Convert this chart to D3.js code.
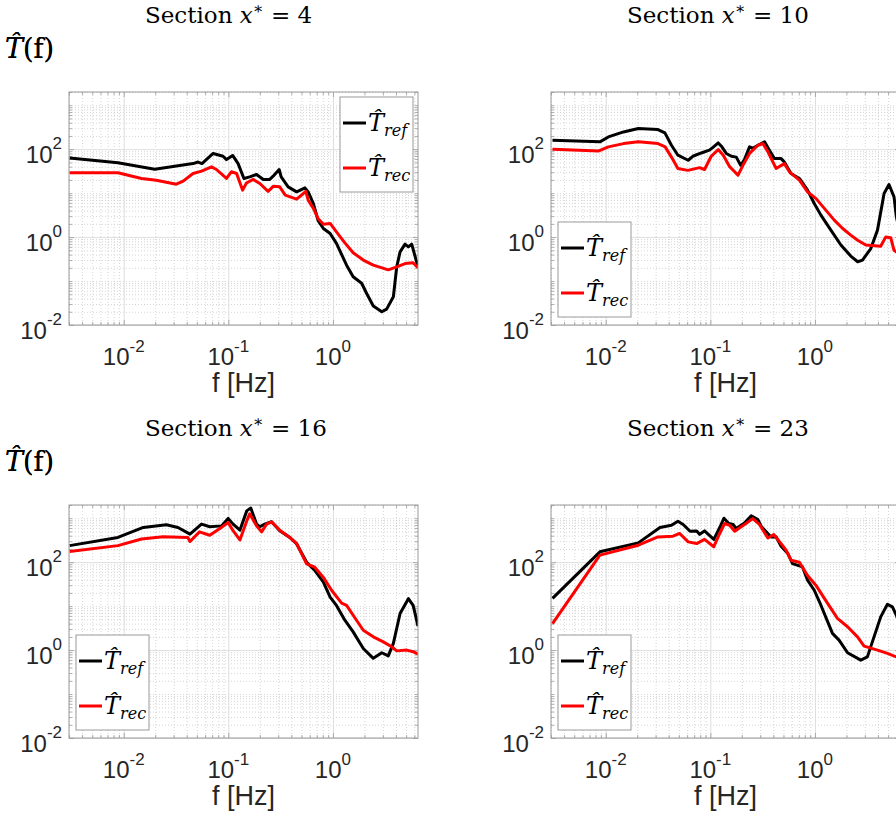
<!DOCTYPE html>
<html>
<head>
<meta charset="utf-8">
<script src="https://cdnjs.cloudflare.com/ajax/libs/d3/7.8.5/d3.min.js"></script>
<style>
  body { margin: 0; background: #fff; }
</style>
</head>
<body>
<script>
// section numbers of the four panels
const sections = ['4', '10', '16', '23'];
// where the legend sits in each panel
const legendCorners = ['ne', 'sw', 'sw', 'sw'];

// [f in Hz, |T(f)|]
const ref4 = [[0.00304,63],[0.0088,49],[0.0198,35],[0.046,47],[0.0513,51],[0.056,47],[0.0716,80],[0.089,69],[0.096,58],[0.11,72],[0.124,47],[0.141,21.6],[0.16,23.5],[0.186,26.6],[0.216,20.5],[0.249,20.5],[0.268,24.3],[0.306,34.5],[0.32,23.5],[0.373,13.9],[0.45,10.7],[0.54,13.2],[0.58,10.7],[0.65,5.8],[0.72,2.4],[0.81,1.57],[0.94,1.21],[1.08,0.72],[1.35,0.23],[1.56,0.125],[1.88,0.089],[2.1,0.052],[2.43,0.027],[2.93,0.02],[3.26,0.023],[3.78,0.044],[4.07,0.21],[4.38,0.46],[4.89,0.69],[5.26,0.6],[5.66,0.69],[6.5,0.21]];
const rec4 = [[0.00304,29],[0.0088,29],[0.0148,21.6],[0.0205,19.7],[0.0318,16],[0.037,18.8],[0.046,28],[0.0555,31.6],[0.069,39.6],[0.077,34.5],[0.096,21.6],[0.107,30.6],[0.12,28],[0.137,11.7],[0.149,17],[0.173,20.5],[0.2,16.6],[0.24,11],[0.27,14.4],[0.31,13.9],[0.35,9],[0.39,8.2],[0.45,7.3],[0.5,9],[0.55,11],[0.58,6.9],[0.65,4.5],[0.72,2.66],[0.81,1.97],[0.94,2.05],[1.08,1.32],[1.3,0.74],[1.56,0.44],[1.95,0.3],[2.43,0.23],[3.38,0.18],[4.07,0.21],[4.89,0.25],[5.84,0.26],[6.5,0.2]];
const ref10 = [[0.0031,160],[0.0088,147],[0.0106,190],[0.0148,247],[0.0205,295],[0.0316,280],[0.0368,235],[0.0425,123],[0.049,73],[0.0614,56],[0.068,69],[0.082,82],[0.098,95],[0.106,110],[0.119,139],[0.129,113],[0.142,80],[0.159,69],[0.177,66],[0.195,43],[0.212,58],[0.237,113],[0.255,105],[0.285,123],[0.33,147],[0.367,95],[0.41,61],[0.475,61],[0.51,51],[0.59,28],[0.71,21.6],[0.85,11.7],[0.985,5.8],[1.14,3.16],[1.42,1.44],[1.77,0.66],[2.2,0.37],[2.56,0.275],[2.85,0.3],[3.42,0.55],[3.96,1.44],[4.58,9.8],[5.1,15.7],[5.7,8.2],[6.0,2.9],[6.5,1.2]];
const rec10 = [[0.0031,100],[0.0086,91],[0.0106,113],[0.0148,134],[0.0205,147],[0.0316,134],[0.037,113],[0.0425,66],[0.049,36.5],[0.061,33],[0.079,38],[0.088,34.5],[0.102,69],[0.119,98],[0.133,73],[0.153,40],[0.184,25.6],[0.205,43],[0.237,80],[0.285,123],[0.318,134],[0.355,87],[0.425,36.5],[0.51,47],[0.57,30.6],[0.71,19.7],[0.85,10.7],[1.02,7.6],[1.23,4.5],[1.53,2.43],[1.84,1.57],[2.2,1.11],[2.56,0.85],[3.06,0.66],[4.25,0.62],[4.74,1.0],[5.3,0.97],[5.7,0.5],[6.0,0.46],[6.5,0.45]];
const ref16 = [[0.00304,238],[0.0088,365],[0.0154,617],[0.0256,710],[0.033,617],[0.043,435],[0.0554,735],[0.0664,640],[0.086,670],[0.0996,990],[0.111,735],[0.129,535],[0.15,1470],[0.164,1700],[0.186,735],[0.2,640],[0.223,735],[0.259,830],[0.31,520],[0.387,365],[0.45,260],[0.56,100],[0.67,65],[0.81,35],[0.94,16],[1.08,10.4],[1.3,4.8],[1.56,2.6],[1.95,1.09],[2.43,0.65],[2.93,0.87],[3.38,0.74],[3.78,1.42],[4.38,6.8],[5.26,14.8],[5.84,10.4],[6.5,3.5]];
const rec16 = [[0.00304,174],[0.0088,238],[0.0148,336],[0.0238,380],[0.041,365],[0.043,295],[0.053,490],[0.0664,410],[0.083,585],[0.0996,800],[0.111,520],[0.129,320],[0.15,870],[0.16,1260],[0.186,670],[0.208,490],[0.232,735],[0.259,830],[0.31,535],[0.387,365],[0.45,265],[0.56,92],[0.67,77],[0.81,45],[0.97,23],[1.21,11.7],[1.35,10.4],[1.56,6.2],[1.95,2.83],[2.43,2.0],[3.03,1.54],[3.64,1.19],[4.07,0.96],[5.08,1.0],[5.84,0.92],[6.5,0.81]];
const ref23 = [[0.0031,15],[0.0088,172],[0.0205,275],[0.033,615],[0.0425,690],[0.049,850],[0.055,720],[0.064,505],[0.074,515],[0.079,430],[0.088,515],[0.108,330],[0.123,615],[0.135,1000],[0.15,760],[0.165,720],[0.177,585],[0.212,780],[0.246,1130],[0.285,930],[0.306,660],[0.38,375],[0.425,380],[0.475,230],[0.55,158],[0.61,93],[0.76,78],[0.85,39],[0.985,23],[1.14,10.5],[1.47,2.4],[1.7,1.69],[2.05,0.87],[2.74,0.59],[3.17,0.7],[3.67,2.0],[4.25,5.7],[4.93,11],[5.5,9.6],[6.0,6.2],[6.5,3.5]];
const rec23 = [[0.0031,4.0],[0.0088,145],[0.0205,243],[0.0316,375],[0.044,390],[0.051,450],[0.0614,290],[0.074,265],[0.088,330],[0.108,225],[0.123,450],[0.137,760],[0.153,690],[0.171,505],[0.212,720],[0.255,980],[0.295,720],[0.355,355],[0.404,425],[0.475,265],[0.53,187],[0.59,111],[0.71,100],[0.85,50],[1.02,30],[1.23,15],[1.64,5.25],[2.05,3.4],[2.55,2.0],[2.95,1.23],[3.96,1.0],[4.93,0.84],[6.0,0.7],[6.5,0.65]];

const refSeries = [ref4, ref10, ref16, ref23];
const recSeries = [rec4, rec10, rec16, rec23];

// axis ticks: value and exponent shown
const xTicks = [0.01, 0.1, 1];
const xTickExp = ['-2', '-1', '0'];
const yTicks = [0.01, 1, 100];
const yTickExp = ['-2', '0', '2'];

const W = 896, H = 823;
const pw = 349, ph = 233;
const lefts = [69, 551];
const tops = [92, 505];

const serif = "'DejaVu Serif', serif";
const sans = "'Liberation Sans', Arial, Helvetica, sans-serif";
const txtColor = '#262626';

const svg = d3.select('body')
    .append('svg')
    .attr('width', W)
    .attr('height', H)
    .attr('xmlns', 'http://www.w3.org/2000/svg');

const x = d3.scaleLog().domain([0.003, 6.5]).range([0, pw]);
const y = d3.scaleLog().domain([0.01, 2000]).range([ph, 0]);

// every 1..9 x 10^d inside the domain
const allLog = (dom, d0, d1) => {
    const out = [];
    for (let d = d0; d <= d1; d++) {
        for (let k = 1; k <= 9; k++) {
            const v = k * Math.pow(10, d);
            if (v >= dom[0] * 0.999 && v <= dom[1] * 1.001) out.push(+v.toPrecision(3));
        }
    }
    return out;
};
const xAll = allLog(x.domain(), -3, 0);
const yAll = allLog(y.domain(), -2, 3);
const isMajor = (v, list) => list.some((m) => Math.abs(v / m - 1) < 1e-6);
const xMinor = xAll.filter((v) => !isMajor(v, xTicks));
const yMinor = yAll.filter((v) => !isMajor(v, yTicks));

const line = d3.line()
    .x((d) => x(d[0]))
    .y((d) => y(d[1]));

const drawPanel = (i) => {
    const col = i % 2, row = Math.floor(i / 2);
    const left = lefts[col], top = tops[row];

    const g = svg.append('g')
        .attr('transform', 'translate(' + left + ',' + top + ')');

    g.append('clipPath')
        .attr('id', 'clip' + i)
        .append('rect')
        .attr('width', pw)
        .attr('height', ph);

    g.append('rect')
        .attr('width', pw)
        .attr('height', ph)
        .attr('fill', '#fff');

    // minor grid (dotted)
    const gridMinorX = g.append('g')
        .call(d3.axisBottom(x).tickValues(xMinor).tickSize(ph).tickFormat(''));
    const gridMinorY = g.append('g')
        .call(d3.axisLeft(y).tickValues(yMinor).tickSize(-pw).tickFormat(''));
    [gridMinorX, gridMinorY].forEach((s) => {
        s.select('.domain').remove();
        s.selectAll('line')
            .attr('stroke', '#c4c4c4')
            .attr('stroke-width', 0.7)
            .attr('stroke-dasharray', '1,2');
    });

    // major grid
    const gridX = g.append('g')
        .call(d3.axisBottom(x).tickValues(xTicks).tickSize(ph).tickFormat(''));
    const gridY = g.append('g')
        .call(d3.axisLeft(y).tickValues(yTicks).tickSize(-pw).tickFormat(''));
    [gridX, gridY].forEach((s) => {
        s.select('.domain').remove();
        s.selectAll('line')
            .attr('stroke', '#dedede')
            .attr('stroke-width', 1);
    });

    // inward ticks on all four sides
    const tickAxes = [
        [d3.axisBottom(x), 'translate(0,' + ph + ')', xTicks, xMinor],
        [d3.axisTop(x), null, xTicks, xMinor],
        [d3.axisLeft(y), null, yTicks, yMinor],
        [d3.axisRight(y), 'translate(' + pw + ',0)', yTicks, yMinor]
    ];
    tickAxes.forEach(([ax, tr, maj, min]) => {
        [[maj, -5], [min, -3]].forEach(([vals, len]) => {
            const s = g.append('g')
                .attr('transform', tr)
                .call(ax.tickValues(vals).tickSizeInner(len).tickSizeOuter(0).tickFormat(''));
            s.select('.domain').remove();
            s.selectAll('line').attr('stroke', '#9a9a9a').attr('stroke-width', 0.8);
        });
    });

    // series
    const plot = g.append('g').attr('clip-path', 'url(#clip' + i + ')');
    plot.append('path')
        .datum(refSeries[i])
        .attr('d', line)
        .attr('fill', 'none')
        .attr('stroke', '#000')
        .attr('stroke-width', 3)
        .attr('stroke-linejoin', 'round');
    plot.append('path')
        .datum(recSeries[i])
        .attr('d', line)
        .attr('fill', 'none')
        .attr('stroke', '#ff0000')
        .attr('stroke-width', 3)
        .attr('stroke-linejoin', 'round');

    // box
    g.append('rect')
        .attr('width', pw)
        .attr('height', ph)
        .attr('fill', 'none')
        .attr('stroke', '#9a9a9a')
        .attr('stroke-width', 1);

    // x tick labels
    xTicks.forEach((v, k) => {
        const t = g.append('text')
            .attr('x', x(v))
            .attr('y', ph + 40)
            .attr('text-anchor', 'middle')
            .attr('font-family', sans)
            .attr('font-size', 24)
            .attr('fill', txtColor);
        t.append('tspan').text('10');
        t.append('tspan').attr('font-size', 17).attr('dy', -13).text(xTickExp[k]);
    });

    // y tick labels
    yTicks.forEach((v, k) => {
        const t = g.append('text')
            .attr('x', -7)
            .attr('y', y(v) + 14)
            .attr('text-anchor', 'end')
            .attr('font-family', sans)
            .attr('font-size', 24)
            .attr('fill', txtColor);
        t.append('tspan').text('10');
        t.append('tspan').attr('font-size', 17).attr('dy', -14).text(yTickExp[k]);
    });

    // x label
    g.append('text')
        .attr('x', pw / 2)
        .attr('y', ph + 67)
        .attr('text-anchor', 'middle')
        .attr('font-family', sans)
        .attr('font-size', 27)
        .attr('fill', txtColor)
        .text('f [Hz]');

    // y label
    const yl = g.append('text')
        .attr('x', 5 - left)
        .attr('y', -34)
        .attr('font-family', serif)
        .attr('font-size', 27)
        .attr('fill', '#000');
    yl.append('tspan').attr('font-style', 'italic').text('T\u0302');
    yl.append('tspan').text('(f)');

    // title
    const tt = g.append('text')
        .attr('x', 76)
        .attr('y', -69)
        .attr('font-family', serif)
        .attr('font-size', 23)
        .attr('fill', '#000');
    tt.append('tspan').text('Section ');
    tt.append('tspan').attr('font-style', 'italic').text('x');
    tt.append('tspan').attr('font-size', 16).attr('dy', -9).text('\u2217');
    tt.append('tspan').attr('dy', 9).text(' = ' + sections[i]);

    // legend
    const lw = 73, lh = 95;
    const lx = legendCorners[i] === 'ne' ? pw - 5 - lw : 7;
    const ly = legendCorners[i] === 'ne' ? 5 : ph - 8 - lh;
    const lg = g.append('g').attr('transform', 'translate(' + lx + ',' + ly + ')');
    lg.append('rect')
        .attr('width', lw)
        .attr('height', lh)
        .attr('fill', '#fff')
        .attr('stroke', '#9a9a9a')
        .attr('stroke-width', 1);
    [['#000', 'ref', 26], ['#ff0000', 'rec', 71]].forEach(([c, sub, yy]) => {
        lg.append('line')
            .attr('x1', 3).attr('x2', 26)
            .attr('y1', yy).attr('y2', yy)
            .attr('stroke', c)
            .attr('stroke-width', 3);
        const t = lg.append('text')
            .attr('x', 28)
            .attr('y', yy + 8)
            .attr('font-family', serif)
            .attr('font-style', 'italic')
            .attr('font-size', 24)
            .attr('fill', '#000');
        t.append('tspan').text('T\u0302');
        t.append('tspan').attr('font-size', 16).attr('dy', 5).text(sub);
    });
};

sections.forEach((s, i) => drawPanel(i));
</script>
</body>
</html>
